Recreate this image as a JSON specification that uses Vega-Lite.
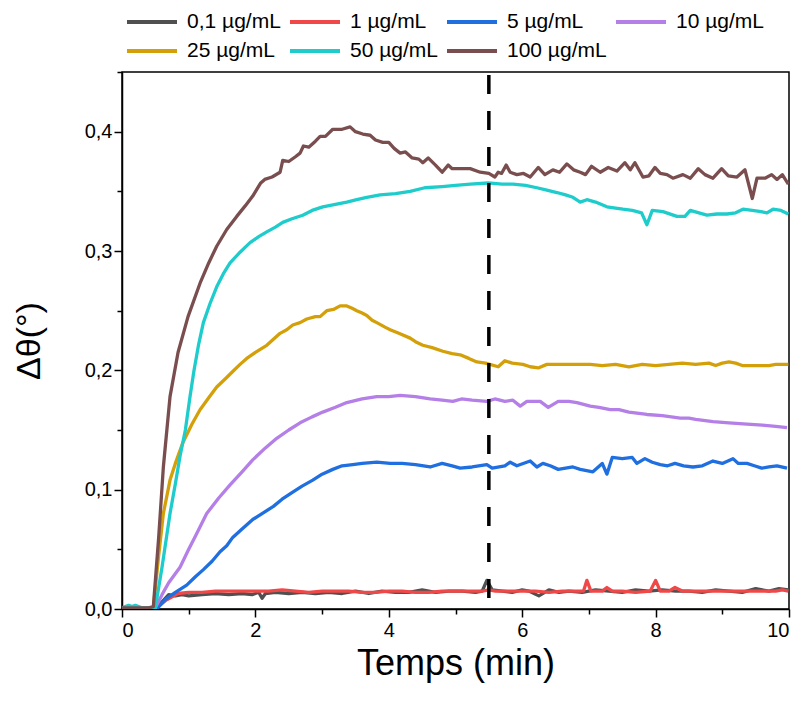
{
"$schema":"https://vega.github.io/schema/vega-lite/v6.json",
"autosize":{"type":"none"},
"width":667,"height":537,
"padding":{"left":122,"top":72,"right":14,"bottom":95},
"background":"white",
"config":{"font":"Liberation Sans","view":{"stroke":"black","strokeWidth":1.5},
"axis":{"labelFont":"Liberation Sans","titleFont":"Liberation Sans","domainColor":"black","domainWidth":1.5,"tickColor":"black","tickWidth":1.5,"labelColor":"black","labelFontSize":20,"titleColor":"black","titleFontWeight":"normal","grid":false},
"legend":{"labelFont":"Liberation Sans"}},
"datasets":{
"curves":[
{"k":"0,1","t":0,"v":0.001},{"k":"0,1","t":0.2,"v":0.001},{"k":"0,1","t":0.4,"v":0.001},{"k":"0,1","t":0.5,"v":0.0},{"k":"0,1","t":0.6,"v":0.006},{"k":"0,1","t":0.7,"v":0.012},{"k":"0,1","t":0.8,"v":0.011},{"k":"0,1","t":0.9,"v":0.012},{"k":"0,1","t":1.0,"v":0.011},{"k":"0,1","t":1.2,"v":0.012},{"k":"0,1","t":1.4,"v":0.013},{"k":"0,1","t":1.6,"v":0.012},{"k":"0,1","t":1.8,"v":0.013},{"k":"0,1","t":1.95,"v":0.012},{"k":"0,1","t":2.05,"v":0.014},{"k":"0,1","t":2.1,"v":0.009},{"k":"0,1","t":2.15,"v":0.013},{"k":"0,1","t":2.3,"v":0.014},{"k":"0,1","t":2.5,"v":0.013},{"k":"0,1","t":2.7,"v":0.014},{"k":"0,1","t":2.9,"v":0.013},{"k":"0,1","t":3.1,"v":0.014},{"k":"0,1","t":3.3,"v":0.013},{"k":"0,1","t":3.5,"v":0.015},{"k":"0,1","t":3.7,"v":0.013},{"k":"0,1","t":3.9,"v":0.015},{"k":"0,1","t":4.1,"v":0.014},{"k":"0,1","t":4.3,"v":0.014},{"k":"0,1","t":4.5,"v":0.016},{"k":"0,1","t":4.7,"v":0.014},{"k":"0,1","t":4.9,"v":0.015},{"k":"0,1","t":5.1,"v":0.015},{"k":"0,1","t":5.3,"v":0.014},{"k":"0,1","t":5.4,"v":0.015},{"k":"0,1","t":5.47,"v":0.024},{"k":"0,1","t":5.55,"v":0.016},{"k":"0,1","t":5.7,"v":0.015},{"k":"0,1","t":5.85,"v":0.014},{"k":"0,1","t":6.0,"v":0.016},{"k":"0,1","t":6.1,"v":0.015},{"k":"0,1","t":6.25,"v":0.011},{"k":"0,1","t":6.4,"v":0.016},{"k":"0,1","t":6.55,"v":0.014},{"k":"0,1","t":6.7,"v":0.015},{"k":"0,1","t":6.9,"v":0.014},{"k":"0,1","t":7.1,"v":0.016},{"k":"0,1","t":7.3,"v":0.015},{"k":"0,1","t":7.5,"v":0.014},{"k":"0,1","t":7.7,"v":0.016},{"k":"0,1","t":7.9,"v":0.015},{"k":"0,1","t":8.1,"v":0.016},{"k":"0,1","t":8.3,"v":0.015},{"k":"0,1","t":8.5,"v":0.015},{"k":"0,1","t":8.7,"v":0.014},{"k":"0,1","t":8.9,"v":0.016},{"k":"0,1","t":9.1,"v":0.015},{"k":"0,1","t":9.3,"v":0.014},{"k":"0,1","t":9.5,"v":0.017},{"k":"0,1","t":9.7,"v":0.015},{"k":"0,1","t":9.85,"v":0.017},{"k":"0,1","t":9.99,"v":0.016},
{"k":"1","t":0,"v":0.001},{"k":"1","t":0.2,"v":0.001},{"k":"1","t":0.4,"v":0.001},{"k":"1","t":0.5,"v":0.0},{"k":"1","t":0.65,"v":0.007},{"k":"1","t":0.84,"v":0.013},{"k":"1","t":1.0,"v":0.014},{"k":"1","t":1.2,"v":0.014},{"k":"1","t":1.4,"v":0.015},{"k":"1","t":1.6,"v":0.015},{"k":"1","t":1.8,"v":0.015},{"k":"1","t":2.0,"v":0.015},{"k":"1","t":2.2,"v":0.015},{"k":"1","t":2.4,"v":0.016},{"k":"1","t":2.6,"v":0.015},{"k":"1","t":2.8,"v":0.014},{"k":"1","t":3.0,"v":0.015},{"k":"1","t":3.2,"v":0.015},{"k":"1","t":3.4,"v":0.015},{"k":"1","t":3.6,"v":0.014},{"k":"1","t":3.8,"v":0.014},{"k":"1","t":4.0,"v":0.015},{"k":"1","t":4.2,"v":0.015},{"k":"1","t":4.4,"v":0.014},{"k":"1","t":4.6,"v":0.014},{"k":"1","t":4.8,"v":0.015},{"k":"1","t":5.0,"v":0.015},{"k":"1","t":5.2,"v":0.015},{"k":"1","t":5.4,"v":0.015},{"k":"1","t":5.5,"v":0.016},{"k":"1","t":5.6,"v":0.015},{"k":"1","t":5.8,"v":0.015},{"k":"1","t":6.0,"v":0.015},{"k":"1","t":6.2,"v":0.015},{"k":"1","t":6.4,"v":0.014},{"k":"1","t":6.6,"v":0.015},{"k":"1","t":6.8,"v":0.015},{"k":"1","t":6.92,"v":0.015},{"k":"1","t":6.97,"v":0.024},{"k":"1","t":7.03,"v":0.015},{"k":"1","t":7.2,"v":0.015},{"k":"1","t":7.27,"v":0.018},{"k":"1","t":7.35,"v":0.015},{"k":"1","t":7.5,"v":0.015},{"k":"1","t":7.7,"v":0.014},{"k":"1","t":7.92,"v":0.015},{"k":"1","t":8.0,"v":0.024},{"k":"1","t":8.07,"v":0.015},{"k":"1","t":8.2,"v":0.015},{"k":"1","t":8.29,"v":0.018},{"k":"1","t":8.4,"v":0.015},{"k":"1","t":8.6,"v":0.015},{"k":"1","t":8.8,"v":0.015},{"k":"1","t":9.0,"v":0.015},{"k":"1","t":9.2,"v":0.015},{"k":"1","t":9.4,"v":0.015},{"k":"1","t":9.6,"v":0.015},{"k":"1","t":9.8,"v":0.015},{"k":"1","t":9.9,"v":0.016},{"k":"1","t":9.99,"v":0.015},
{"k":"5","t":0,"v":0.001},{"k":"5","t":0.2,"v":0.001},{"k":"5","t":0.4,"v":0.001},{"k":"5","t":0.52,"v":0.0},{"k":"5","t":0.65,"v":0.008},{"k":"5","t":0.8,"v":0.014},{"k":"5","t":0.97,"v":0.02},{"k":"5","t":1.1,"v":0.027},{"k":"5","t":1.22,"v":0.033},{"k":"5","t":1.35,"v":0.04},{"k":"5","t":1.47,"v":0.048},{"k":"5","t":1.57,"v":0.053},{"k":"5","t":1.66,"v":0.06},{"k":"5","t":1.8,"v":0.067},{"k":"5","t":1.96,"v":0.075},{"k":"5","t":2.1,"v":0.08},{"k":"5","t":2.27,"v":0.086},{"k":"5","t":2.4,"v":0.092},{"k":"5","t":2.56,"v":0.098},{"k":"5","t":2.7,"v":0.103},{"k":"5","t":2.86,"v":0.108},{"k":"5","t":3.0,"v":0.113},{"k":"5","t":3.16,"v":0.117},{"k":"5","t":3.3,"v":0.12},{"k":"5","t":3.46,"v":0.121},{"k":"5","t":3.6,"v":0.122},{"k":"5","t":3.82,"v":0.123},{"k":"5","t":4.02,"v":0.122},{"k":"5","t":4.2,"v":0.122},{"k":"5","t":4.4,"v":0.121},{"k":"5","t":4.62,"v":0.119},{"k":"5","t":4.8,"v":0.122},{"k":"5","t":4.95,"v":0.12},{"k":"5","t":5.07,"v":0.118},{"k":"5","t":5.25,"v":0.119},{"k":"5","t":5.47,"v":0.121},{"k":"5","t":5.55,"v":0.118},{"k":"5","t":5.74,"v":0.12},{"k":"5","t":5.82,"v":0.123},{"k":"5","t":5.92,"v":0.12},{"k":"5","t":6.12,"v":0.124},{"k":"5","t":6.22,"v":0.119},{"k":"5","t":6.31,"v":0.122},{"k":"5","t":6.42,"v":0.12},{"k":"5","t":6.54,"v":0.117},{"k":"5","t":6.65,"v":0.118},{"k":"5","t":6.76,"v":0.119},{"k":"5","t":6.87,"v":0.117},{"k":"5","t":7.06,"v":0.115},{"k":"5","t":7.2,"v":0.122},{"k":"5","t":7.27,"v":0.113},{"k":"5","t":7.35,"v":0.127},{"k":"5","t":7.5,"v":0.126},{"k":"5","t":7.65,"v":0.127},{"k":"5","t":7.72,"v":0.122},{"k":"5","t":7.84,"v":0.126},{"k":"5","t":7.95,"v":0.123},{"k":"5","t":8.07,"v":0.121},{"k":"5","t":8.18,"v":0.12},{"k":"5","t":8.29,"v":0.122},{"k":"5","t":8.42,"v":0.12},{"k":"5","t":8.56,"v":0.119},{"k":"5","t":8.7,"v":0.12},{"k":"5","t":8.86,"v":0.124},{"k":"5","t":9.0,"v":0.122},{"k":"5","t":9.16,"v":0.126},{"k":"5","t":9.24,"v":0.122},{"k":"5","t":9.37,"v":0.122},{"k":"5","t":9.48,"v":0.12},{"k":"5","t":9.59,"v":0.118},{"k":"5","t":9.7,"v":0.119},{"k":"5","t":9.82,"v":0.12},{"k":"5","t":9.97,"v":0.118},
{"k":"10","t":0,"v":0.001},{"k":"10","t":0.2,"v":0.001},{"k":"10","t":0.4,"v":0.001},{"k":"10","t":0.5,"v":0.001},{"k":"10","t":0.6,"v":0.012},{"k":"10","t":0.7,"v":0.022},{"k":"10","t":0.87,"v":0.035},{"k":"10","t":1.0,"v":0.05},{"k":"10","t":1.1,"v":0.061},{"k":"10","t":1.27,"v":0.08},{"k":"10","t":1.45,"v":0.093},{"k":"10","t":1.62,"v":0.104},{"k":"10","t":1.8,"v":0.115},{"k":"10","t":1.96,"v":0.125},{"k":"10","t":2.15,"v":0.135},{"k":"10","t":2.32,"v":0.143},{"k":"10","t":2.5,"v":0.15},{"k":"10","t":2.67,"v":0.156},{"k":"10","t":2.85,"v":0.161},{"k":"10","t":3.01,"v":0.165},{"k":"10","t":3.2,"v":0.169},{"k":"10","t":3.37,"v":0.173},{"k":"10","t":3.6,"v":0.176},{"k":"10","t":3.82,"v":0.178},{"k":"10","t":4.0,"v":0.178},{"k":"10","t":4.17,"v":0.179},{"k":"10","t":4.4,"v":0.178},{"k":"10","t":4.62,"v":0.176},{"k":"10","t":4.8,"v":0.175},{"k":"10","t":4.96,"v":0.174},{"k":"10","t":5.09,"v":0.176},{"k":"10","t":5.25,"v":0.175},{"k":"10","t":5.47,"v":0.174},{"k":"10","t":5.59,"v":0.176},{"k":"10","t":5.74,"v":0.174},{"k":"10","t":5.86,"v":0.175},{"k":"10","t":5.97,"v":0.17},{"k":"10","t":6.07,"v":0.174},{"k":"10","t":6.27,"v":0.174},{"k":"10","t":6.39,"v":0.169},{"k":"10","t":6.54,"v":0.174},{"k":"10","t":6.7,"v":0.174},{"k":"10","t":6.82,"v":0.173},{"k":"10","t":7.02,"v":0.17},{"k":"10","t":7.15,"v":0.169},{"k":"10","t":7.32,"v":0.167},{"k":"10","t":7.45,"v":0.167},{"k":"10","t":7.6,"v":0.165},{"k":"10","t":7.87,"v":0.163},{"k":"10","t":8.1,"v":0.162},{"k":"10","t":8.37,"v":0.16},{"k":"10","t":8.5,"v":0.16},{"k":"10","t":8.6,"v":0.159},{"k":"10","t":8.86,"v":0.157},{"k":"10","t":9.1,"v":0.156},{"k":"10","t":9.37,"v":0.155},{"k":"10","t":9.6,"v":0.154},{"k":"10","t":9.8,"v":0.153},{"k":"10","t":9.97,"v":0.152},
{"k":"25","t":0,"v":0.001},{"k":"25","t":0.2,"v":0.001},{"k":"25","t":0.4,"v":0.001},{"k":"25","t":0.47,"v":0.001},{"k":"25","t":0.55,"v":0.045},{"k":"25","t":0.62,"v":0.08},{"k":"25","t":0.72,"v":0.108},{"k":"25","t":0.8,"v":0.122},{"k":"25","t":0.91,"v":0.139},{"k":"25","t":1.05,"v":0.155},{"k":"25","t":1.17,"v":0.167},{"k":"25","t":1.3,"v":0.177},{"k":"25","t":1.42,"v":0.186},{"k":"25","t":1.55,"v":0.193},{"k":"25","t":1.66,"v":0.199},{"k":"25","t":1.77,"v":0.205},{"k":"25","t":1.87,"v":0.21},{"k":"25","t":2.0,"v":0.215},{"k":"25","t":2.17,"v":0.221},{"k":"25","t":2.27,"v":0.226},{"k":"25","t":2.37,"v":0.231},{"k":"25","t":2.47,"v":0.234},{"k":"25","t":2.56,"v":0.238},{"k":"25","t":2.67,"v":0.24},{"k":"25","t":2.77,"v":0.243},{"k":"25","t":2.9,"v":0.245},{"k":"25","t":2.97,"v":0.245},{"k":"25","t":3.07,"v":0.25},{"k":"25","t":3.17,"v":0.251},{"k":"25","t":3.27,"v":0.254},{"k":"25","t":3.37,"v":0.254},{"k":"25","t":3.45,"v":0.252},{"k":"25","t":3.52,"v":0.25},{"k":"25","t":3.6,"v":0.248},{"k":"25","t":3.67,"v":0.246},{"k":"25","t":3.75,"v":0.242},{"k":"25","t":3.82,"v":0.24},{"k":"25","t":3.95,"v":0.236},{"k":"25","t":4.02,"v":0.234},{"k":"25","t":4.15,"v":0.231},{"k":"25","t":4.32,"v":0.227},{"k":"25","t":4.4,"v":0.224},{"k":"25","t":4.51,"v":0.221},{"k":"25","t":4.65,"v":0.219},{"k":"25","t":4.81,"v":0.216},{"k":"25","t":4.95,"v":0.214},{"k":"25","t":5.07,"v":0.213},{"k":"25","t":5.2,"v":0.21},{"k":"25","t":5.32,"v":0.207},{"k":"25","t":5.45,"v":0.206},{"k":"25","t":5.64,"v":0.203},{"k":"25","t":5.74,"v":0.208},{"k":"25","t":5.85,"v":0.206},{"k":"25","t":6.01,"v":0.205},{"k":"25","t":6.12,"v":0.203},{"k":"25","t":6.24,"v":0.202},{"k":"25","t":6.37,"v":0.205},{"k":"25","t":6.6,"v":0.205},{"k":"25","t":6.8,"v":0.205},{"k":"25","t":7.02,"v":0.205},{"k":"25","t":7.2,"v":0.204},{"k":"25","t":7.4,"v":0.205},{"k":"25","t":7.6,"v":0.203},{"k":"25","t":7.8,"v":0.205},{"k":"25","t":8.0,"v":0.204},{"k":"25","t":8.2,"v":0.205},{"k":"25","t":8.4,"v":0.206},{"k":"25","t":8.6,"v":0.205},{"k":"25","t":8.8,"v":0.206},{"k":"25","t":8.9,"v":0.204},{"k":"25","t":9.0,"v":0.206},{"k":"25","t":9.1,"v":0.207},{"k":"25","t":9.2,"v":0.206},{"k":"25","t":9.3,"v":0.204},{"k":"25","t":9.5,"v":0.204},{"k":"25","t":9.7,"v":0.204},{"k":"25","t":9.8,"v":0.205},{"k":"25","t":9.99,"v":0.205},
{"k":"50","t":0,"v":0.001},{"k":"50","t":0.1,"v":0.003},{"k":"50","t":0.15,"v":0.002},{"k":"50","t":0.2,"v":0.003},{"k":"50","t":0.3,"v":0.001},{"k":"50","t":0.4,"v":0.001},{"k":"50","t":0.5,"v":0.001},{"k":"50","t":0.6,"v":0.035},{"k":"50","t":0.72,"v":0.08},{"k":"50","t":0.8,"v":0.105},{"k":"50","t":0.87,"v":0.128},{"k":"50","t":0.95,"v":0.15},{"k":"50","t":1.02,"v":0.178},{"k":"50","t":1.08,"v":0.2},{"k":"50","t":1.15,"v":0.222},{"k":"50","t":1.22,"v":0.24},{"k":"50","t":1.32,"v":0.256},{"k":"50","t":1.42,"v":0.27},{"k":"50","t":1.52,"v":0.281},{"k":"50","t":1.62,"v":0.29},{"k":"50","t":1.77,"v":0.299},{"k":"50","t":1.92,"v":0.307},{"k":"50","t":2.05,"v":0.312},{"k":"50","t":2.17,"v":0.316},{"k":"50","t":2.3,"v":0.32},{"k":"50","t":2.41,"v":0.324},{"k":"50","t":2.55,"v":0.327},{"k":"50","t":2.71,"v":0.33},{"k":"50","t":2.85,"v":0.334},{"k":"50","t":3.01,"v":0.337},{"k":"50","t":3.2,"v":0.339},{"k":"50","t":3.37,"v":0.341},{"k":"50","t":3.52,"v":0.343},{"k":"50","t":3.67,"v":0.345},{"k":"50","t":3.87,"v":0.347},{"k":"50","t":4.1,"v":0.348},{"k":"50","t":4.32,"v":0.35},{"k":"50","t":4.54,"v":0.353},{"k":"50","t":4.8,"v":0.354},{"k":"50","t":5.0,"v":0.355},{"k":"50","t":5.22,"v":0.356},{"k":"50","t":5.49,"v":0.357},{"k":"50","t":5.7,"v":0.356},{"k":"50","t":5.86,"v":0.356},{"k":"50","t":6.05,"v":0.355},{"k":"50","t":6.22,"v":0.353},{"k":"50","t":6.37,"v":0.351},{"k":"50","t":6.52,"v":0.349},{"k":"50","t":6.65,"v":0.347},{"k":"50","t":6.76,"v":0.345},{"k":"50","t":6.87,"v":0.341},{"k":"50","t":6.97,"v":0.343},{"k":"50","t":7.1,"v":0.341},{"k":"50","t":7.27,"v":0.337},{"k":"50","t":7.4,"v":0.336},{"k":"50","t":7.51,"v":0.335},{"k":"50","t":7.65,"v":0.334},{"k":"50","t":7.79,"v":0.332},{"k":"50","t":7.87,"v":0.322},{"k":"50","t":7.95,"v":0.334},{"k":"50","t":8.11,"v":0.333},{"k":"50","t":8.32,"v":0.329},{"k":"50","t":8.44,"v":0.329},{"k":"50","t":8.52,"v":0.334},{"k":"50","t":8.65,"v":0.332},{"k":"50","t":8.77,"v":0.33},{"k":"50","t":8.92,"v":0.331},{"k":"50","t":9.07,"v":0.331},{"k":"50","t":9.2,"v":0.332},{"k":"50","t":9.31,"v":0.335},{"k":"50","t":9.45,"v":0.334},{"k":"50","t":9.58,"v":0.333},{"k":"50","t":9.67,"v":0.332},{"k":"50","t":9.76,"v":0.335},{"k":"50","t":9.88,"v":0.334},{"k":"50","t":9.99,"v":0.331},
{"k":"100","t":0,"v":0.001},{"k":"100","t":0.2,"v":0.001},{"k":"100","t":0.4,"v":0.001},{"k":"100","t":0.47,"v":0.002},{"k":"100","t":0.55,"v":0.06},{"k":"100","t":0.62,"v":0.119},{"k":"100","t":0.72,"v":0.178},{"k":"100","t":0.84,"v":0.215},{"k":"100","t":0.99,"v":0.245},{"k":"100","t":1.17,"v":0.273},{"k":"100","t":1.3,"v":0.29},{"k":"100","t":1.42,"v":0.304},{"k":"100","t":1.57,"v":0.318},{"k":"100","t":1.72,"v":0.329},{"k":"100","t":1.85,"v":0.338},{"k":"100","t":1.96,"v":0.346},{"k":"100","t":2.08,"v":0.357},{"k":"100","t":2.14,"v":0.36},{"k":"100","t":2.25,"v":0.362},{"k":"100","t":2.37,"v":0.366},{"k":"100","t":2.41,"v":0.376},{"k":"100","t":2.5,"v":0.375},{"k":"100","t":2.6,"v":0.379},{"k":"100","t":2.67,"v":0.382},{"k":"100","t":2.72,"v":0.388},{"k":"100","t":2.8,"v":0.387},{"k":"100","t":2.9,"v":0.392},{"k":"100","t":2.97,"v":0.396},{"k":"100","t":3.05,"v":0.396},{"k":"100","t":3.16,"v":0.402},{"k":"100","t":3.3,"v":0.402},{"k":"100","t":3.42,"v":0.404},{"k":"100","t":3.5,"v":0.4},{"k":"100","t":3.61,"v":0.398},{"k":"100","t":3.72,"v":0.397},{"k":"100","t":3.8,"v":0.393},{"k":"100","t":3.91,"v":0.391},{"k":"100","t":4.0,"v":0.391},{"k":"100","t":4.08,"v":0.386},{"k":"100","t":4.17,"v":0.382},{"k":"100","t":4.25,"v":0.383},{"k":"100","t":4.35,"v":0.378},{"k":"100","t":4.45,"v":0.377},{"k":"100","t":4.51,"v":0.374},{"k":"100","t":4.59,"v":0.378},{"k":"100","t":4.7,"v":0.372},{"k":"100","t":4.8,"v":0.366},{"k":"100","t":4.89,"v":0.372},{"k":"100","t":4.95,"v":0.369},{"k":"100","t":5.05,"v":0.369},{"k":"100","t":5.22,"v":0.369},{"k":"100","t":5.37,"v":0.366},{"k":"100","t":5.5,"v":0.365},{"k":"100","t":5.59,"v":0.362},{"k":"100","t":5.64,"v":0.366},{"k":"100","t":5.69,"v":0.365},{"k":"100","t":5.76,"v":0.372},{"k":"100","t":5.82,"v":0.366},{"k":"100","t":5.92,"v":0.364},{"k":"100","t":6.02,"v":0.365},{"k":"100","t":6.12,"v":0.362},{"k":"100","t":6.24,"v":0.37},{"k":"100","t":6.34,"v":0.364},{"k":"100","t":6.46,"v":0.368},{"k":"100","t":6.56,"v":0.366},{"k":"100","t":6.67,"v":0.373},{"k":"100","t":6.77,"v":0.368},{"k":"100","t":6.87,"v":0.366},{"k":"100","t":6.95,"v":0.364},{"k":"100","t":7.04,"v":0.371},{"k":"100","t":7.17,"v":0.366},{"k":"100","t":7.29,"v":0.37},{"k":"100","t":7.42,"v":0.367},{"k":"100","t":7.54,"v":0.374},{"k":"100","t":7.62,"v":0.368},{"k":"100","t":7.69,"v":0.374},{"k":"100","t":7.81,"v":0.362},{"k":"100","t":7.9,"v":0.363},{"k":"100","t":7.99,"v":0.37},{"k":"100","t":8.07,"v":0.365},{"k":"100","t":8.17,"v":0.364},{"k":"100","t":8.26,"v":0.361},{"k":"100","t":8.41,"v":0.364},{"k":"100","t":8.52,"v":0.361},{"k":"100","t":8.64,"v":0.369},{"k":"100","t":8.74,"v":0.364},{"k":"100","t":8.86,"v":0.361},{"k":"100","t":8.99,"v":0.369},{"k":"100","t":9.09,"v":0.363},{"k":"100","t":9.22,"v":0.362},{"k":"100","t":9.34,"v":0.368},{"k":"100","t":9.45,"v":0.344},{"k":"100","t":9.52,"v":0.361},{"k":"100","t":9.64,"v":0.361},{"k":"100","t":9.74,"v":0.364},{"k":"100","t":9.82,"v":0.36},{"k":"100","t":9.9,"v":0.364},{"k":"100","t":9.99,"v":0.356}
],
"marker":[{"t":5.5}]
},
"layer":[
{"data":{"name":"curves"},
"mark":{"type":"line","strokeWidth":3.3,"strokeJoin":"round","clip":true},
"encoding":{
"x":{"field":"t","type":"quantitative","scale":{"domain":[0,10],"nice":false,"zero":false},
"axis":{"title":"Temps (min)","titleFontSize":36,"titlePadding":6,"values":[0,1,2,3,4,5,6,7,8,9,10],"labelExpr":"datum.value % 2 == 0 ? format(datum.value,'d') : ''","tickSize":{"condition":{"test":"datum.value % 2 == 0","value":8},"value":5},"labelPadding":3}},
"y":{"field":"v","type":"quantitative","scale":{"domain":[0,0.45],"nice":false},
"axis":{"title":"Δθ(°)","titleFontSize":34,"titlePadding":38,"values":[0,0.05,0.1,0.15,0.2,0.25,0.3,0.35,0.4,0.45],"labelExpr":"round(datum.value*100) % 10 == 0 ? replace(format(datum.value,'.1f'),'.',',') : ''","tickSize":{"condition":{"test":"round(datum.value*100) % 10 == 0","value":8},"value":5},"labelPadding":2}},
"color":{"field":"k","type":"nominal",
"scale":{"domain":["0,1","1","5","10","25","50","100"],"range":["#505050","#f04848","#1f6fe0","#b47fe6","#d4a00a","#1ecccc","#7a4e4e"]},
"legend":{"title":null,"orient":"none","legendX":13,"legendY":-67,"direction":"horizontal","columns":4,"symbolType":"M-1.667,0L1.667,0","symbolSize":900,"symbolStrokeWidth":4,"symbolFillColor":"transparent","labelFont":"Liberation Sans","labelFontSize":21,"labelColor":"black","labelOffset":18,"columnPadding":0,"rowPadding":2,"labelExpr":"datum.label + ' µg/mL'"}}
}},
{"data":{"name":"marker"},
"mark":{"type":"rule","color":"black","strokeWidth":3.5,"strokeDash":[19,17],"strokeDashOffset":-3},
"encoding":{"x":{"field":"t","type":"quantitative"}}}
]
}
